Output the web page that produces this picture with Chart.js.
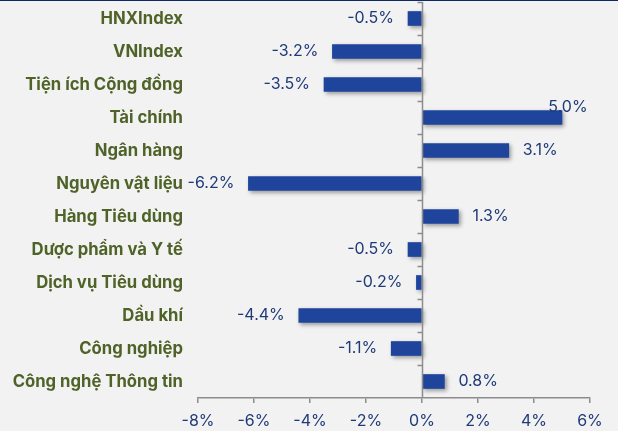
<!DOCTYPE html>
<html lang="vi">
<head>
<meta charset="utf-8" />
<title>Biến động ngành</title>
<script src="https://cdn.jsdelivr.net/npm/chart.js@4/dist/chart.umd.min.js"></script>
<style>
  html, body { margin: 0; padding: 0; background: #f2f2f2; }
  #wrap { width: 618px; height: 431px; position: relative; }
  #topline { position: absolute; left: 0; top: 0; width: 100%; height: 1px; background: #0e2a66; }
</style>
</head>
<body>
<div id="wrap"><canvas id="chart"></canvas><div id="topline"></div></div>
<script>
// du lieu
const categories = [
  'HNXIndex', 'VNIndex', 'Tiện ích Cộng đồng', 'Tài chính', 'Ngân hàng',
  'Nguyên vật liệu', 'Hàng Tiêu dùng', 'Dược phẩm và Y tế', 'Dịch vụ Tiêu dùng',
  'Dầu khí', 'Công nghiệp', 'Công nghệ Thông tin'
];
const changes = [-0.5, -3.2, -3.5, 5.0, 3.1, -6.2, 1.3, -0.5, -0.2, -4.4, -1.1, 0.8];
const xTicks = [-8, -6, -4, -2, 0, 2, 4, 6];

const NAVY = '#1f3a78';
const BAR = '#1f449c';
const LABEL = '#4f6228';
const AXIS = '#8c8c8c';

// bong do cho cot
const shadowPlugin = {
  id: 'barShadow',
  beforeDatasetDraw(chart) {
    const ctx = chart.ctx;
    ctx.save();
    ctx.shadowColor = 'rgba(0,0,0,0.35)';
    ctx.shadowBlur = 4;
    ctx.shadowOffsetX = 2;
    ctx.shadowOffsetY = 2;
  },
  afterDatasetDraw(chart) { chart.ctx.restore(); }
};

// truc doc tai gia tri 0, vach chia giua cac nhom
const zeroAxis = {
  id: 'zeroAxis',
  afterDatasetsDraw(chart) {
    const { ctx, chartArea, scales } = chart;
    const x0 = Math.round(scales.x.getPixelForValue(0)) + 0.5;
    const step = scales.y.getPixelForValue(1) - scales.y.getPixelForValue(0);
    ctx.save();
    ctx.strokeStyle = AXIS;
    ctx.lineWidth = 1.5;
    ctx.beginPath();
    ctx.moveTo(x0, chartArea.top);
    ctx.lineTo(x0, chartArea.bottom);
    for (let i = 0; i < categories.length; i++) {
      const yy = Math.round(scales.y.getPixelForValue(i) - step / 2) + 0.5;
      ctx.moveTo(x0 - 5, yy);
      ctx.lineTo(x0, yy);
    }
    ctx.stroke();
    ctx.restore();
  }
};

// nhan gia tri o dau cot
const valueLabels = {
  id: 'valueLabels',
  afterDatasetsDraw(chart) {
    const ctx = chart.ctx;
    const meta = chart.getDatasetMeta(0);
    const area = chart.chartArea;
    ctx.save();
    ctx.font = '16px Inter';
    ctx.fillStyle = NAVY;
    ctx.textBaseline = 'middle';
    meta.data.forEach((bar, i) => {
      const v = changes[i];
      const txt = v.toFixed(1) + '%';
      const w = ctx.measureText(txt).width;
      if (v < 0) {
        ctx.textAlign = 'right';
        ctx.fillText(txt, bar.x - 14, bar.y);
      } else if (bar.x + 14 + w > area.right) {
        ctx.textAlign = 'center';
        ctx.fillText(txt, bar.x + 6, bar.y - 10);
      } else {
        ctx.textAlign = 'left';
        ctx.fillText(txt, bar.x + 14, bar.y);
      }
    });
    ctx.restore();
  }
};

new Chart(document.getElementById('chart'), {
  type: 'bar',
  data: {
    labels: categories,
    datasets: [{
      data: changes,
      backgroundColor: BAR,
      barThickness: 14
    }]
  },
  options: {
    indexAxis: 'y',
    responsive: true,
    maintainAspectRatio: false,
    animation: false,
    layout: { padding: { top: 2, right: 28, bottom: 0, left: 0 } },
    plugins: { legend: { display: false }, tooltip: { enabled: false } },
    scales: {
      x: {
        min: -8, max: 6,
        afterBuildTicks: s => { s.ticks = xTicks.map(v => ({ value: v })); },
        afterFit: s => { s.height = 33; },
        grid: { drawOnChartArea: false, color: AXIS, tickLength: 5, lineWidth: 1.5 },
        border: { color: AXIS, width: 1.5 },
        ticks: { color: NAVY, font: { family: 'Inter', size: 16 }, padding: 9, maxRotation: 0, callback: v => v + '%' }
      },
      y: {
        position: 'left',
        afterFit: s => { s.width = 198; s.paddingTop = 0; s.paddingBottom = 0; },
        grid: { display: false, drawTicks: false },
        border: { display: false },
        ticks: { color: LABEL, font: { family: 'Inter', size: 16.7, weight: 'bold' }, padding: 15 }
      }
    }
  },
  plugins: [shadowPlugin, zeroAxis, valueLabels]
});
</script>
</body>
</html>
